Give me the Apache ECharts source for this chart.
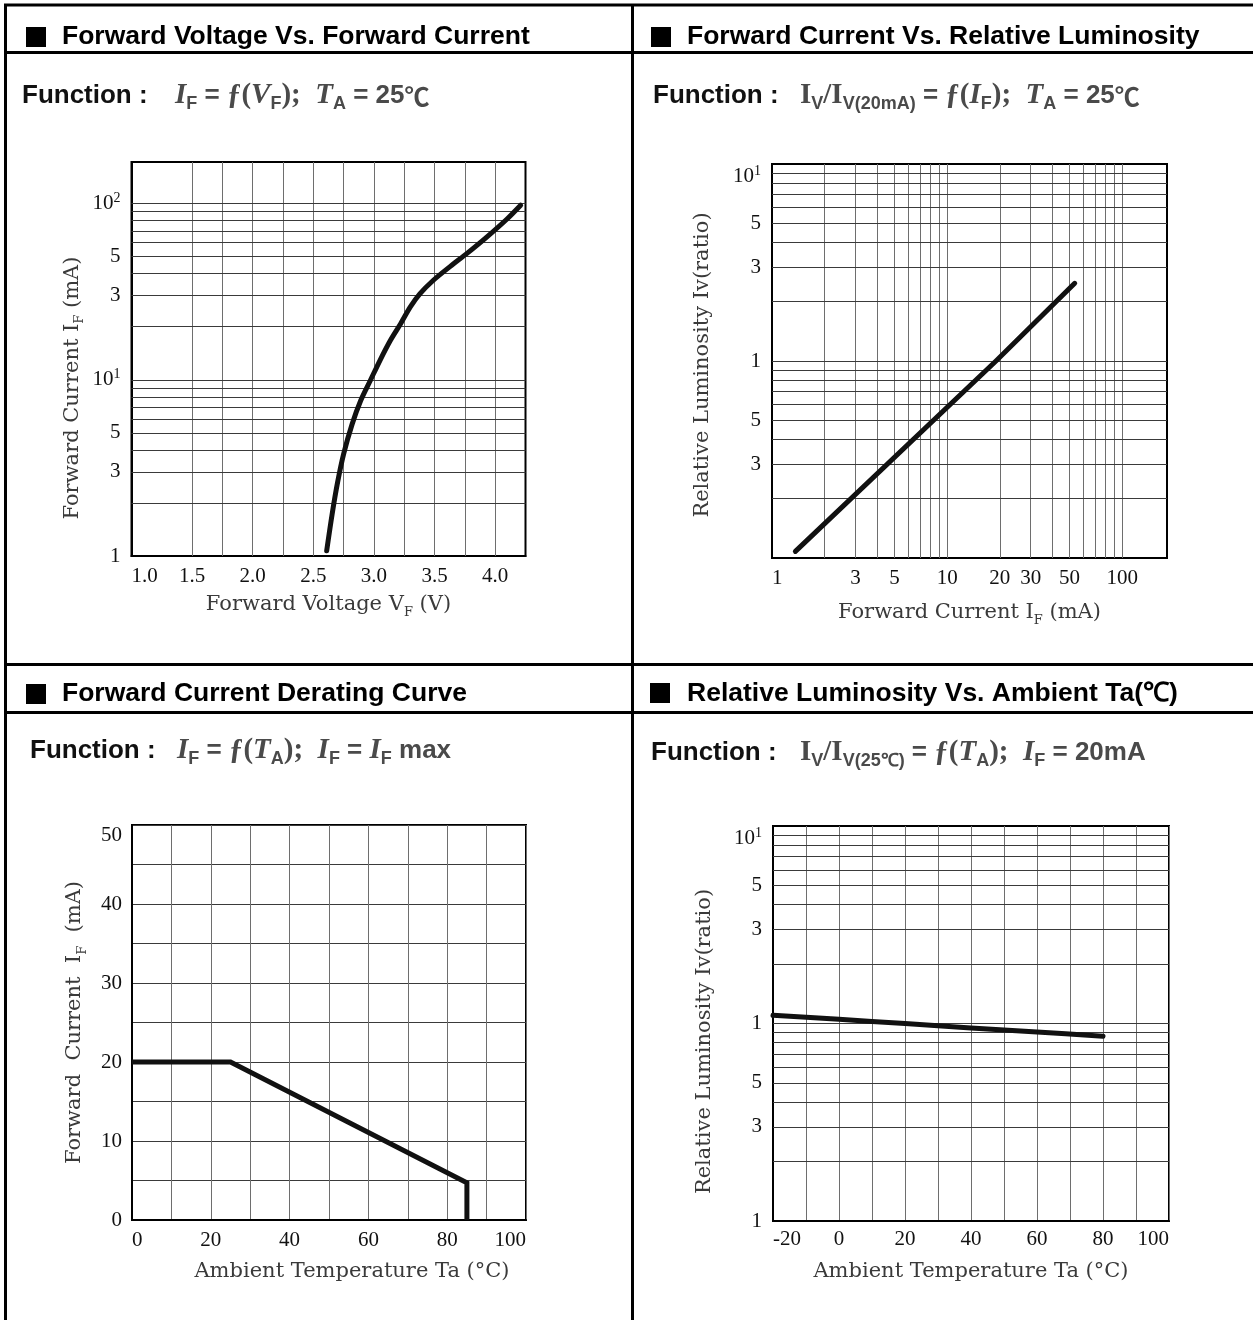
<!DOCTYPE html>
<html>
<head>
<meta charset="utf-8">
<script src="https://cdn.jsdelivr.net/npm/echarts@6.0.0/dist/echarts.min.js"></script>
<style>html,body{margin:0;padding:0;background:#fff}#c{width:1253px;height:1320px}</style>
</head>
<body>
<div id="c"></div>
<script>
// ---------------- DATA ----------------
// Panel 1: Forward Voltage vs Forward Current (log y)
const vfVoltage = [2.61, 2.655, 2.70, 2.75, 2.82, 2.89, 2.97, 3.05, 3.135, 3.22, 3.30, 3.38, 3.49, 3.63, 3.77, 3.93, 4.10, 4.21];
const vfCurrent = [1.07, 1.73, 2.62, 3.8, 5.6, 7.6, 9.9, 12.9, 16.7, 20.8, 25.9, 30.8, 36.7, 44, 52.3, 64.5, 82, 97.8];
const vfXTickValues = [1.0, 1.5, 2.0, 2.5, 3.0, 3.5, 4.0];
const vfXGrid = [1.5, 1.75, 2.0, 2.25, 2.5, 2.75, 3.0, 3.25, 3.5, 3.75, 4.0];
const vfYTickValues = [1, 3, 5, 10, 30, 50, 100];
const vfYTickText = ['1', '3', '5', '10¹', '3', '5', '10²'];
const vfYGrid = [2, 3, 4, 5, 6, 7, 8, 9, 10, 20, 30, 40, 50, 60, 70, 80, 90, 100];

// Panel 2: Forward Current vs Relative Luminosity (log-log)
const lumCurrent = [1.36, 19, 53.5];
const lumRatio = [0.108, 1.0, 2.48];
const lumXTickValues = [1, 3, 5, 10, 20, 30, 50, 100];
const lumXTickText = ['1', '3', '5', '10', '20', '30', '50', '100'];
const lumXGrid = [2, 3, 4, 5, 6, 7, 8, 9, 10, 20, 30, 40, 50, 60, 70, 80, 90, 100];
const lumYTickValues = [0.3, 0.5, 1, 3, 5, 10];
const lumYTickText = ['3', '5', '1', '3', '5', '10¹'];
const relYGrid = [0.2, 0.3, 0.4, 0.5, 0.6, 0.7, 0.8, 0.9, 1, 2, 3, 4, 5, 6, 7, 8, 9];

// Panel 3: Forward Current Derating Curve
const derTemp = [0, 25, 85, 85];
const derCurrent = [20, 20, 4.7, 0];

// Panel 4: Relative Luminosity vs Ambient Ta
const ambTemp = [-20, 0, 20, 40, 60, 80];
const ambRatio = [1.10, 1.05, 1.0, 0.95, 0.905, 0.862];
const ambYTickValues = [0.1, 0.3, 0.5, 1, 3, 5, 10];
const ambYTickText = ['1', '3', '5', '1', '3', '5', '10¹'];

// ---------------- STYLE ----------------
const SERIF = '"Liberation Serif", "Times New Roman", serif';
const NAMEF = '"DejaVu Serif", serif';
const SANS = '"Liberation Sans", Arial, sans-serif';
const CJK = '"Noto Sans CJK KR", sans-serif';
const GRAY = '#4a4a4a';
const NAMEC = '#3a3a3a';
const HLINE = '#3a3a3a';
const VLINE = '#6e6e6e';

function near(a, b) { return Math.abs(a - b) <= Math.abs(b) * 1e-6 + 1e-9; }
function lookup(values, texts, v) {
  for (let i = 0; i < values.length; i++) if (near(v, values[i])) return texts[i];
  return '';
}
function isDecade(v) { const l = Math.log10(v); return Math.abs(l - Math.round(l)) < 1e-9; }
function supRich(s) { return s.replace('¹', '{p|1}').replace('²', '{p|2}'); }

const tickFont = { fontFamily: SERIF, fontSize: 21, color: '#111' };
const tickRich = { p: { fontFamily: SERIF, fontSize: 14, color: '#111', lineHeight: 14, verticalAlign: 'top' } };
function nameStyle(extra) {
  return Object.assign({
    fontFamily: NAMEF, fontSize: 21, color: NAMEC, lineHeight: 28,
    rich: { s: { fontFamily: NAMEF, fontSize: 13, color: NAMEC, lineHeight: 14, verticalAlign: 'bottom' } }
  }, extra || {});
}

function gridSeries(idx, xs, ys, xVals, xTexts, yVals, yTexts) {
  const data = [];
  xs.forEach(v => {
    const t = (xVals && !isDecade(v)) ? lookup(xVals, xTexts, v) : '';
    data.push({ xAxis: v, lineStyle: { color: VLINE, width: 1, type: 'solid' },
      label: t ? Object.assign({ show: true, position: 'start', distance: 10, formatter: t }, tickFont) : { show: false } });
  });
  ys.forEach(v => {
    const t = (yVals && !isDecade(v)) ? lookup(yVals, yTexts, v) : '';
    data.push({ yAxis: v, lineStyle: { color: HLINE, width: 1, type: 'solid' },
      label: t ? Object.assign({ show: true, position: 'start', distance: 11, formatter: t }, tickFont) : { show: false } });
  });
  return {
    type: 'line', xAxisIndex: idx, yAxisIndex: idx, data: [], z: 1, silent: true,
    markLine: { silent: true, symbol: ['none', 'none'], animation: false, data: data,
      emphasis: { disabled: true } }
  };
}

const curveStyle = { color: '#111', width: 5, cap: 'round', join: 'round' };
function curve(idx, xs, ys, smooth) {
  return {
    type: 'line', xAxisIndex: idx, yAxisIndex: idx, z: 5, symbol: 'none', showSymbol: false,
    smooth: smooth, silent: true, lineStyle: curveStyle,
    data: xs.map((x, i) => [x, ys[i]])
  };
}

const baseGrid = { show: true, borderColor: '#000', borderWidth: 2, containLabel: false, outerBoundsMode: 'none' };
const axisLine = { show: true, onZero: false, lineStyle: { color: '#000', width: 2 } };

const option = {
  animation: false,
  backgroundColor: '#fff',
  grid: [
    Object.assign({ left: 131.5, top: 162, width: 394, height: 394 }, baseGrid),
    Object.assign({ left: 772, top: 164, width: 395, height: 394 }, baseGrid),
    Object.assign({ left: 132, top: 825, width: 394, height: 395 }, baseGrid),
    Object.assign({ left: 773, top: 826, width: 396, height: 395 }, baseGrid)
  ],
  xAxis: [
    { gridIndex: 0, type: 'value', min: 1, max: 4.25, interval: 0.25,
      axisLine: axisLine, axisTick: { show: false }, splitLine: { show: false },
      axisLabel: Object.assign({ margin: 10, alignMinLabel: 'left',
        formatter: v => vfXTickValues.some(t => near(v, t)) ? v.toFixed(1) : '' }, tickFont),
      name: 'Forward Voltage V{s|F} (V)', nameLocation: 'middle', nameGap: 35, nameTextStyle: nameStyle() },
    { gridIndex: 1, type: 'log', logBase: 10, min: 1, max: 180,
      axisLine: axisLine, axisTick: { show: false }, splitLine: { show: false },
      axisLabel: Object.assign({ margin: 10, alignMinLabel: 'left',
        formatter: v => isDecade(v) ? lookup(lumXTickValues, lumXTickText, v) : '' }, tickFont),
      name: 'Forward Current I{s|F} (mA)', nameLocation: 'middle', nameGap: 41, nameTextStyle: nameStyle() },
    { gridIndex: 2, type: 'value', min: 0, max: 100, interval: 10,
      axisLine: axisLine, axisTick: { show: false },
      splitLine: { show: true, lineStyle: { color: VLINE, width: 1 } },
      axisLabel: Object.assign({ margin: 10, alignMinLabel: 'left', alignMaxLabel: 'right',
        formatter: v => (v % 20 === 0 ? String(v) : '') }, tickFont),
      name: 'Ambient Temperature Ta (°C)', nameLocation: 'middle', nameGap: 38,
      nameTextStyle: nameStyle({ padding: [0, 0, 0, 46] }) },
    { gridIndex: 3, type: 'value', min: -20, max: 100, interval: 10,
      axisLine: axisLine, axisTick: { show: false },
      splitLine: { show: true, lineStyle: { color: VLINE, width: 1 } },
      axisLabel: Object.assign({ margin: 8, alignMinLabel: 'left', alignMaxLabel: 'right',
        formatter: v => (v % 20 === 0 ? String(v) : '') }, tickFont),
      name: 'Ambient Temperature Ta (°C)', nameLocation: 'middle', nameGap: 37, nameTextStyle: nameStyle() }
  ],
  yAxis: [
    { gridIndex: 0, type: 'log', logBase: 10, min: 1, max: 172,
      axisLine: axisLine, axisTick: { show: false }, splitLine: { show: false },
      axisLabel: Object.assign({ margin: 11, lineHeight: 24, rich: tickRich,
        formatter: v => isDecade(v) ? supRich(lookup(vfYTickValues, vfYTickText, v)) : '' }, tickFont),
      name: 'Forward Current I{s|F} (mA)', nameLocation: 'middle', nameGap: 45,
      nameTextStyle: nameStyle({ padding: [0, 58, 0, 0] }) },
    { gridIndex: 1, type: 'log', logBase: 10, min: 0.1, max: 10,
      axisLine: axisLine, axisTick: { show: false }, splitLine: { show: false },
      axisLabel: Object.assign({ margin: 11, lineHeight: 24, rich: tickRich, verticalAlignMaxLabel: 'top',
        formatter: v => isDecade(v) ? supRich(lookup(lumYTickValues, lumYTickText, v)) : '' }, tickFont),
      name: 'Relative Luminosity Iv(ratio)', nameLocation: 'middle', nameGap: 55,
      nameTextStyle: nameStyle({ padding: [0, 8, 0, 0] }) },
    { gridIndex: 2, type: 'value', min: 0, max: 50, interval: 5,
      axisLine: axisLine, axisTick: { show: false },
      splitLine: { show: true, lineStyle: { color: HLINE, width: 1 } },
      axisLabel: Object.assign({ margin: 10, verticalAlignMaxLabel: 'top',
        formatter: v => (v % 10 === 0 ? String(v) : '') }, tickFont),
      name: 'Forward  Current  I{s|F}  (mA)', nameLocation: 'middle', nameGap: 43, nameTextStyle: nameStyle() },
    { gridIndex: 3, type: 'log', logBase: 10, min: 0.1, max: 10,
      axisLine: axisLine, axisTick: { show: false }, splitLine: { show: false },
      axisLabel: Object.assign({ margin: 11, lineHeight: 24, rich: tickRich, verticalAlignMaxLabel: 'top',
        formatter: v => isDecade(v) ? supRich(lookup(ambYTickValues, ambYTickText, v)) : '' }, tickFont),
      name: 'Relative Luminosity Iv(ratio)', nameLocation: 'middle', nameGap: 54,
      nameTextStyle: nameStyle({ padding: [0, 36, 0, 0] }) }
  ],
  series: [
    gridSeries(0, vfXGrid, vfYGrid, null, null, vfYTickValues, vfYTickText),
    gridSeries(1, lumXGrid, relYGrid, lumXTickValues, lumXTickText, lumYTickValues, lumYTickText),
    gridSeries(3, [], relYGrid, null, null, ambYTickValues, ambYTickText),
    curve(0, vfVoltage, vfCurrent, 0.3),
    curve(1, lumCurrent, lumRatio, false),
    Object.assign(curve(2, derTemp, derCurrent, false), { lineStyle: Object.assign({}, curveStyle, { join: 'miter', cap: 'butt' }) }),
    curve(3, ambTemp, ambRatio, 0.3)
  ]
};

// ---------------- TEXT (headers / functions) ----------------
const rich = {
  fn: { fontFamily: SANS, fontWeight: 'bold', fontSize: 26, color: '#111', lineHeight: 34 },
  it: { fontFamily: SERIF, fontStyle: 'italic', fontSize: 29, color: GRAY, lineHeight: 34 },
  rm: { fontFamily: SERIF, fontSize: 29, color: GRAY, lineHeight: 34 },
  op: { fontFamily: SANS, fontSize: 26, color: GRAY, lineHeight: 34 },
  bd: { fontFamily: SANS, fontWeight: 'bold', fontSize: 26, color: GRAY, lineHeight: 34 },
  sb: { fontFamily: SANS, fontSize: 18, color: GRAY, lineHeight: 18, verticalAlign: 'bottom' },
  sbb: { fontFamily: SANS, fontWeight: 'bold', fontSize: 18, color: GRAY, lineHeight: 18, verticalAlign: 'bottom' },
  deg: { fontFamily: CJK, fontSize: 25, color: GRAY, lineHeight: 34 }
};
const headStyle = { fontFamily: SANS, fontWeight: 'bold', fontSize: 26.5, color: '#000', lineHeight: 34, rich: rich };
function t(text, left, top) { return { text: text, left: left, top: top, padding: 0, itemGap: 0, textStyle: headStyle }; }

option.title = [
  t('Forward Voltage Vs. Forward Current', 62, 20),
  t('Forward Current Vs. Relative Luminosity', 687, 20),
  t('Forward Current Derating Curve', 62, 677),
  t('Relative Luminosity Vs. Ambient Ta(℃)', 687, 677),
  t('{fn|Function :}', 22, 79),
  t('{fn|Function :}', 653, 79),
  t('{fn|Function :}', 30, 734),
  t('{fn|Function :}', 651, 736),
  t('{it|I}{sb|F}{op| = }{rm|ƒ(}{it|V}{sb|F}{rm|);  }{it|T}{sbb|A}{bd| = 25}{deg|℃}', 175, 79),
  t('{rm|I}{sb|V}{rm|/I}{sbb|V(20mA)}{op| = }{rm|ƒ(}{it|I}{sb|F}{rm|);  }{it|T}{sbb|A}{bd| = 25}{deg|℃}', 800, 79),
  t('{it|I}{sb|F}{op| = }{rm|ƒ(}{it|T}{sb|A}{rm|);  }{it|I}{sbb|F}{bd| = }{it|I}{sbb|F}{bd| max}', 177, 734),
  t('{rm|I}{sb|V}{rm|/I}{sbb|V(25℃)}{op| = }{rm|ƒ(}{it|T}{sb|A}{rm|);  }{it|I}{sbb|F}{bd| = 20mA}', 800, 736)
];

// ---------------- FRAME ----------------
function ln(x1, y1, x2, y2) {
  return { type: 'line', silent: true, shape: { x1: x1, y1: y1, x2: x2, y2: y2 }, style: { stroke: '#000', lineWidth: 3 } };
}
function sq(x, y) {
  return { type: 'rect', silent: true, shape: { x: x, y: y, width: 20, height: 20 }, style: { fill: '#000' } };
}
option.graphic = [
  ln(4, 5, 1253, 5), ln(5.5, 4, 5.5, 1320), ln(632.5, 4, 632.5, 1320),
  ln(5, 52.5, 1253, 52.5), ln(5, 664.5, 1253, 664.5), ln(5, 712.5, 1253, 712.5),
  sq(26, 27), sq(651, 27), sq(26, 684), sq(650, 683)
];

const chart = echarts.init(document.getElementById('c'), null, { renderer: 'canvas' });
chart.setOption(option);
</script>
</body>
</html>
